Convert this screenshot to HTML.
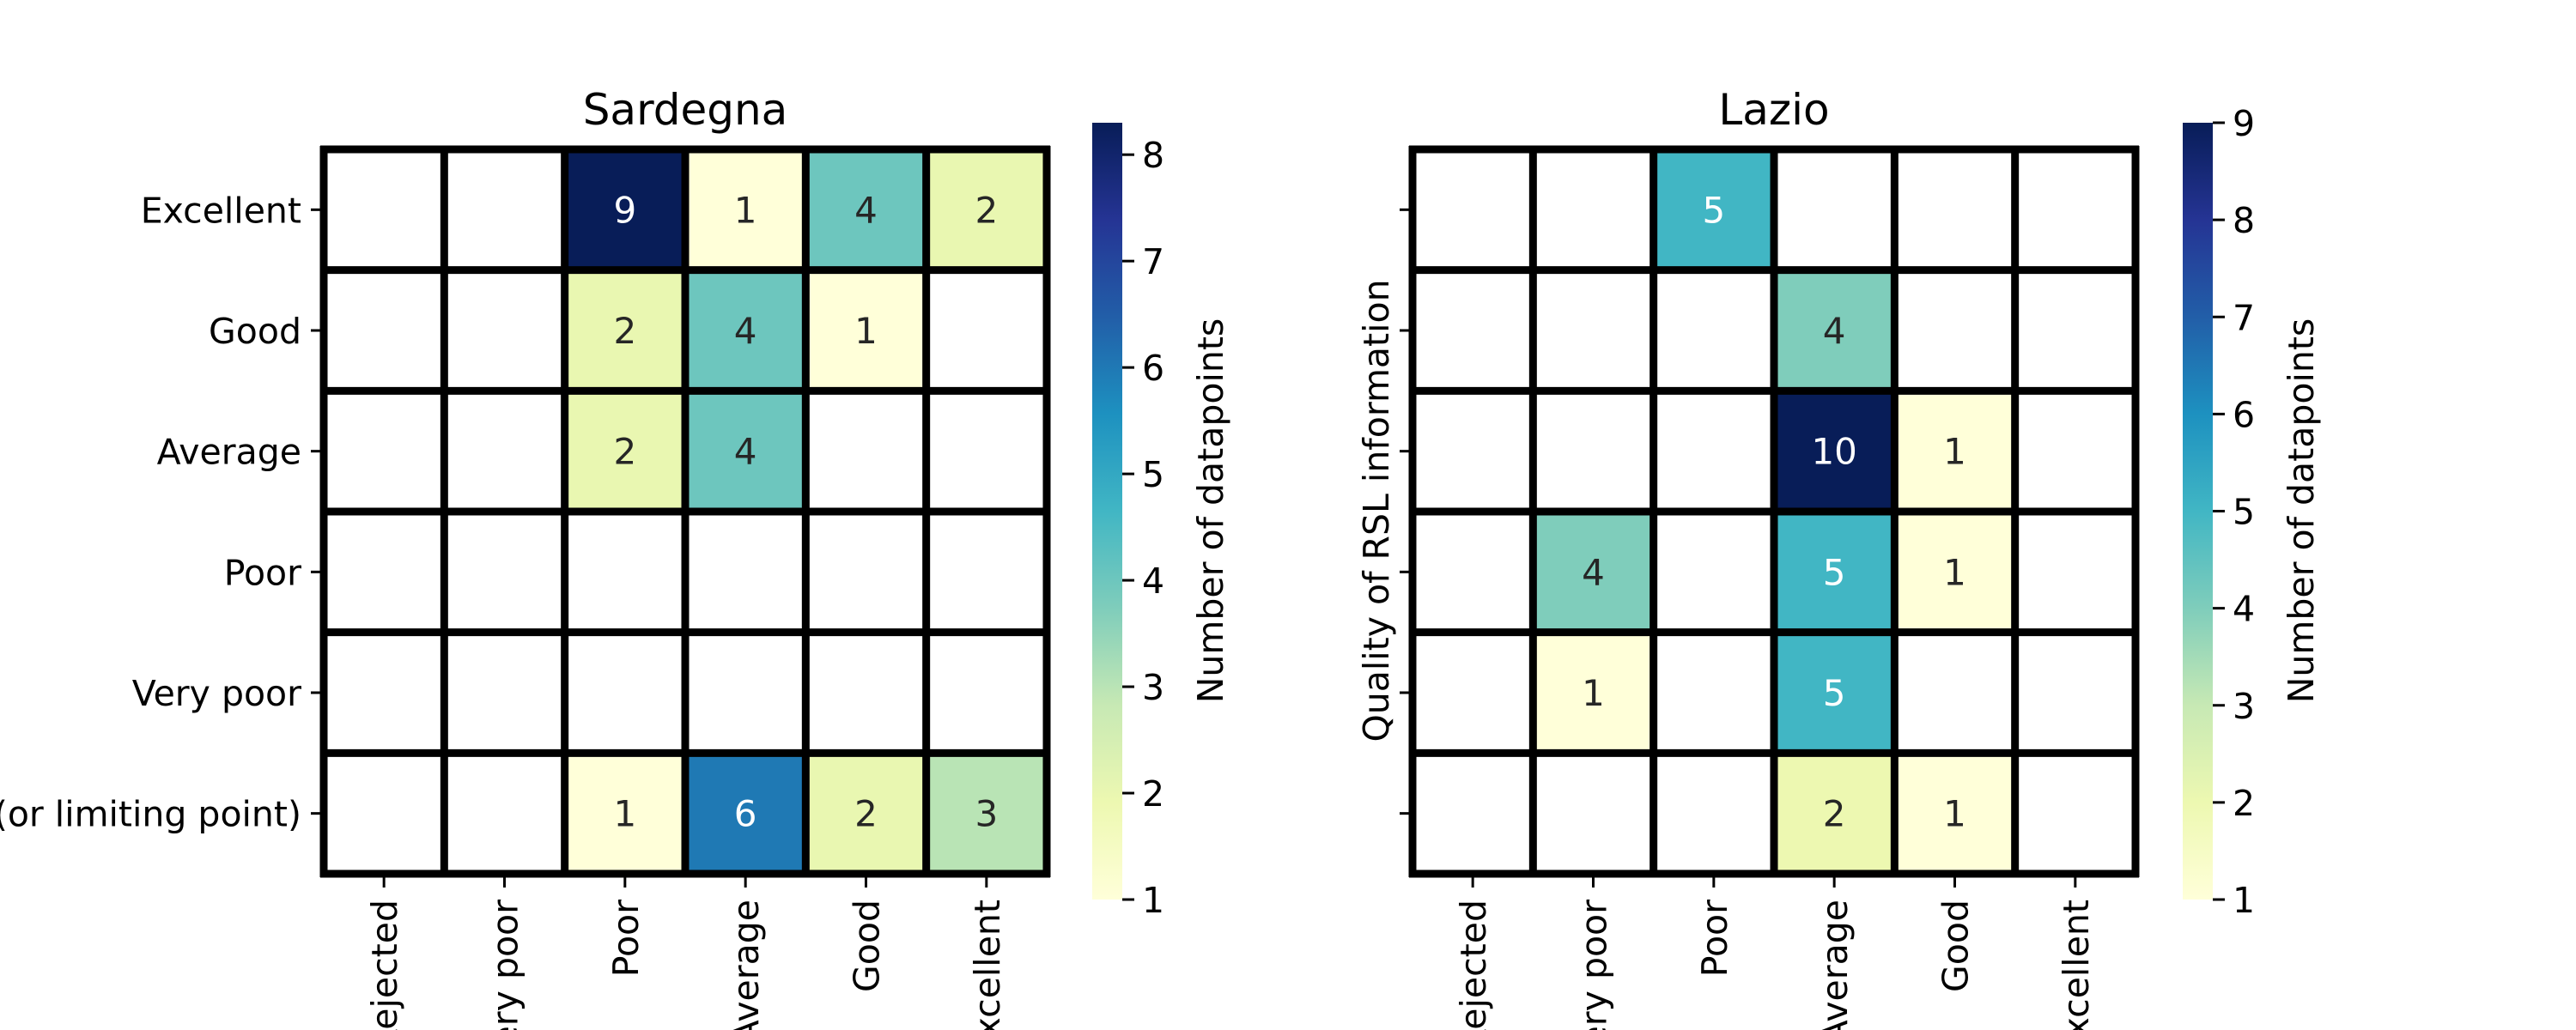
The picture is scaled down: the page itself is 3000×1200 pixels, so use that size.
<!DOCTYPE html>
<html><head><meta charset="utf-8"><style>
html,body{margin:0;padding:0;background:#fff;overflow:hidden}
svg{display:block;font-family:"DejaVu Sans","Liberation Sans",sans-serif}
</style></head><body>
<svg id="fig" width="3000" height="1200" viewBox="0 0 3000 1200" xmlns="http://www.w3.org/2000/svg">
<defs>
<linearGradient id="ylgnbu" x1="0" y1="1" x2="0" y2="0">
<stop offset="0" stop-color="#ffffd9"/><stop offset="0.125" stop-color="#edf8b1"/><stop offset="0.25" stop-color="#c7e9b4"/><stop offset="0.375" stop-color="#7fcdbb"/><stop offset="0.5" stop-color="#41b6c4"/><stop offset="0.625" stop-color="#1d91c0"/><stop offset="0.75" stop-color="#225ea8"/><stop offset="0.875" stop-color="#253494"/><stop offset="1" stop-color="#081d58"/>
</linearGradient>
</defs>
</svg>
<script>
const rowLabels = ["Excellent","Good","Average","Poor","Very poor","Rejected (or limiting point)"];
const colLabels = ["Rejected","Very poor","Poor","Average","Good","Excellent"];
const sardegnaValues = [
 [null,null,9,1,4,2],
 [null,null,2,4,1,null],
 [null,null,2,4,null,null],
 [null,null,null,null,null,null],
 [null,null,null,null,null,null],
 [null,null,1,6,2,3]
];
const lazioValues = [
 [null,null,5,null,null,null],
 [null,null,null,4,null,null],
 [null,null,null,10,1,null],
 [null,4,null,5,1,null],
 [null,1,null,5,null,null],
 [null,null,null,2,1,null]
];
const sardegnaTicks = [1,2,3,4,5,6,7,8];
const lazioTicks = [1,2,3,4,5,6,7,8,9];
const sardegnaRange = [1, 8.3];
const lazioRange = [1, 9];

const NS="http://www.w3.org/2000/svg";
const svg=document.getElementById('fig');
const stops=["#ffffd9","#edf8b1","#c7e9b4","#7fcdbb","#41b6c4","#1d91c0","#225ea8","#253494","#081d58"];
function hex(h){return [1,3,5].map(i=>parseInt(h.substr(i,2),16));}
function cmap(t){t=Math.max(0,Math.min(1,t));const p=t*8,i=Math.min(7,Math.floor(p)),f=p-i;const a=hex(stops[i]),b=hex(stops[i+1]);return a.map((v,k)=>Math.round(v+(b[k]-v)*f));}
function lum(c){const l=c.map(v=>{v/=255;return v<=0.03928?v/12.92:Math.pow((v+0.055)/1.055,2.4);});return 0.2126*l[0]+0.7152*l[1]+0.0722*l[2];}
function mk(tag,attrs,parent){const e=document.createElementNS(NS,tag);for(const k in attrs)e.setAttribute(k,attrs[k]);(parent||svg).appendChild(e);return e;}

function heatmap(cfg){
 const g=mk('g',{});
 
 
 const x0=cfg.x0,y0=174,cw=(cfg.x1-cfg.x0)/6,ch=(1018-174)/6;
 const xs=c=>x0+c*cw, ys=r=>y0+r*ch;
 const [vmin,vmax]=cfg.range;
 cfg.values.forEach((row,r)=>row.forEach((v,c)=>{
  if(v===null)return;
  const col=cmap((v-vmin)/(vmax-vmin));
  const rect=mk('rect',{x:xs(c),y:ys(r),width:cw,height:ch,fill:`rgb(${col})`},g);
  
  
  const t=mk('text',{x:xs(c)+cw/2,y:ys(r)+ch/2+15,'text-anchor':'middle','font-size':42,fill:lum(col)>0.408?'#262626':'#ffffff'},g);
  
  
  t.textContent=v;
 }));
 for(let i=0;i<=6;i++){
  mk('line',{x1:xs(i),x2:xs(i),y1:y0-4,y2:1022,stroke:'#000','stroke-width':9},g);
  mk('line',{x1:x0-4,x2:cfg.x1+4,y1:ys(i),y2:ys(i),stroke:'#000','stroke-width':9},g);
 }
 rowLabels.forEach((l,r)=>{
  const y=ys(r)+ch/2;
  mk('line',{x1:x0-15,x2:x0-4,y1:y,y2:y,stroke:'#000','stroke-width':3},g);
  if(cfg.showRows){
   const t=mk('text',{x:x0-26,y:y+15,'text-anchor':'end','font-size':41},g);
   
   
   t.textContent=l;
  }
 });
 colLabels.forEach((l,c)=>{
  const x=xs(c)+cw/2;
  mk('line',{x1:x,x2:x,y1:1022,y2:1034,stroke:'#000','stroke-width':3},g);
  const t=mk('text',{transform:`translate(${x+15},1048) rotate(-90)`,'text-anchor':'end','font-size':41},g);
  
  
  t.textContent=l;
 });
 const ti=mk('text',{x:(x0+cfg.x1)/2,y:145,'text-anchor':'middle','font-size':50},g);
 
 
 ti.textContent=cfg.title;
 // colorbar
 const cb=mk('rect',{x:cfg.cbx,y:143,width:35,height:905,fill:'url(#ylgnbu)'},g);
 
 
 const cy=v=>1048-(v-vmin)/(vmax-vmin)*905;
 cfg.ticks.forEach(v=>{
  const y=cy(v);
  mk('line',{x1:cfg.cbx+35,x2:cfg.cbx+49,y1:y,y2:y,stroke:'#000','stroke-width':3},g);
  const t=mk('text',{x:cfg.cbx+58,y:y+15,'font-size':41},g);
  
  
  t.textContent=v;
 });
 const cl=mk('text',{transform:`translate(${cfg.cbx+152},595) rotate(-90)`,'text-anchor':'middle','font-size':41},g);
 
 
 cl.textContent='Number of datapoints';
 if(cfg.ylabel){
  const yl=mk('text',{transform:`translate(1617,595) rotate(-90)`,'text-anchor':'middle','font-size':41},g);
  
  
  yl.textContent=cfg.ylabel;
 }
}
heatmap({name:'sardegna-heatmap',title:'Sardegna',x0:377,x1:1219,values:sardegnaValues,range:sardegnaRange,ticks:sardegnaTicks,cbx:1272,showRows:true});
heatmap({name:'lazio-heatmap',title:'Lazio',x0:1645,x1:2487,values:lazioValues,range:lazioRange,ticks:lazioTicks,cbx:2542,showRows:false,ylabel:'Quality of RSL information'});
</script>
</body></html>
